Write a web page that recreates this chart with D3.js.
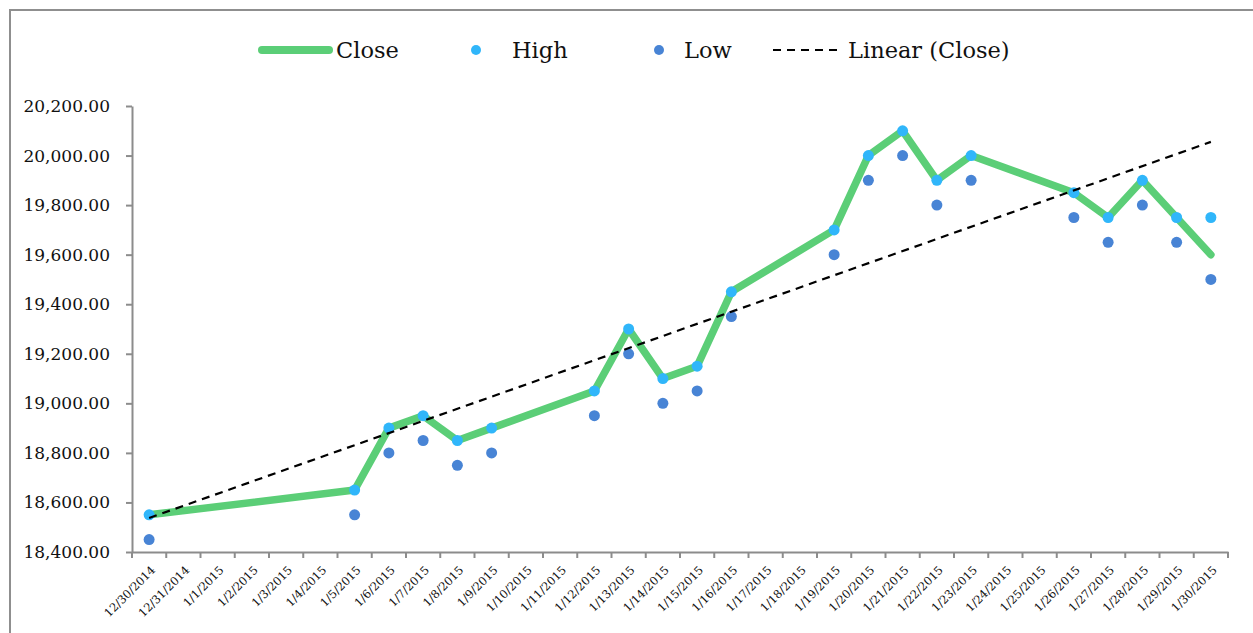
<!DOCTYPE html>
<html><head><meta charset="utf-8">
<script src="https://cdn.jsdelivr.net/npm/d3@7"></script>
<style>body{margin:0;background:#fff;} svg{display:block;}</style>
</head><body>
<svg id="chart" width="1253" height="633"></svg>
<script>
const dateLabels = ["12/30/2014","12/31/2014","1/1/2015","1/2/2015","1/3/2015","1/4/2015","1/5/2015","1/6/2015","1/7/2015","1/8/2015","1/9/2015","1/10/2015","1/11/2015","1/12/2015","1/13/2015","1/14/2015","1/15/2015","1/16/2015","1/17/2015","1/18/2015","1/19/2015","1/20/2015","1/21/2015","1/22/2015","1/23/2015","1/24/2015","1/25/2015","1/26/2015","1/27/2015","1/28/2015","1/29/2015","1/30/2015"];
const tradeDates = ["12/30/2014","1/5/2015","1/6/2015","1/7/2015","1/8/2015","1/9/2015","1/12/2015","1/13/2015","1/14/2015","1/15/2015","1/16/2015","1/19/2015","1/20/2015","1/21/2015","1/22/2015","1/23/2015","1/26/2015","1/27/2015","1/28/2015","1/29/2015","1/30/2015"];
const closeVals = [18550,18650,18900,18950,18850,18900,19050,19300,19100,19150,19450,19700,20000,20100,19900,20000,19850,19750,19900,19750,19600];
const highVals  = [18550,18650,18900,18950,18850,18900,19050,19300,19100,19150,19450,19700,20000,20100,19900,20000,19850,19750,19900,19750,19750];
const lowVals   = [18450,18550,18800,18850,18750,18800,18950,19200,19000,19050,19350,19600,19900,20000,19800,19900,19750,19650,19800,19650,19500];
const yTicks = [18400,18600,18800,19000,19200,19400,19600,19800,20000,20200];
const legendLabels = ["Close","High","Low","Linear (Close)"];

const C_CLOSE="#5BCE77", C_HIGH="#30B6FA", C_LOW="#4884D5", AX="#8C8C8C";
const FONT="'DejaVu Serif', serif";

const svg=d3.select("#chart");
svg.append("rect").attr("x",10).attr("y",10).attr("width",1260).attr("height",640)
  .attr("fill","none").attr("stroke","#8f8f8f").attr("stroke-width",2);

const x=d3.scaleBand().domain(dateLabels).range([132,1228]).padding(0);
const y=d3.scaleLinear().domain([18400,20200]).range([552,106]);
const cx=d=>x(d)+x.bandwidth()/2;

// y axis
const yAxis=svg.append("g").attr("transform","translate(132,0)")
  .call(d3.axisLeft(y).tickValues(yTicks).tickSize(6).tickSizeOuter(0).tickFormat(d3.format(",.2f")));
yAxis.select(".domain").attr("stroke",AX).attr("stroke-width",2);
yAxis.selectAll(".tick line").attr("stroke",AX).attr("stroke-width",2);
yAxis.selectAll(".tick text").attr("x",-22).attr("font-family",FONT).attr("font-size",17).attr("fill","#111");

// x axis
const xAxis=svg.append("g").attr("transform","translate(0,552)")
  .call(d3.axisBottom(x).tickSize(0).tickSizeOuter(0));
xAxis.select(".domain").attr("stroke",AX).attr("stroke-width",2);
xAxis.selectAll(".tick line").remove();
// boundary ticks
const bounds=dateLabels.map(d=>x(d)).concat([x(dateLabels[dateLabels.length-1])+x.bandwidth()]);
xAxis.selectAll("line.bt").data(bounds).join("line").attr("class","bt")
  .attr("x1",d=>d).attr("x2",d=>d).attr("y1",0).attr("y2",6).attr("stroke",AX).attr("stroke-width",2);
xAxis.selectAll(".tick text").attr("font-family",FONT).attr("font-size",11.5).attr("fill","#111")
  .attr("text-anchor","end").attr("y",0).attr("dy","0.35em")
  .attr("transform","translate(4,16) rotate(-45)");

// trendline (least squares on Close vs day index)
const dayIdx=tradeDates.map(d=>dateLabels.indexOf(d));
const n=dayIdx.length, mx=d3.mean(dayIdx), my=d3.mean(closeVals);
let sxy=0,sxx=0; dayIdx.forEach((t,i)=>{sxy+=(t-mx)*(closeVals[i]-my);sxx+=(t-mx)*(t-mx);});
const slope=sxy/sxx, icpt=my-slope*mx;
const t0=dayIdx[0], t1=dayIdx[n-1];
const dayX=d3.scaleLinear().domain([t0,t1]).range([cx(tradeDates[0]),cx(tradeDates[n-1])]);

// close line
svg.append("path").datum(tradeDates.map((d,i)=>[cx(d),y(closeVals[i])]))
  .attr("d",d3.line()).attr("fill","none").attr("stroke",C_CLOSE).attr("stroke-width",7.5)
  .attr("stroke-linejoin","round").attr("stroke-linecap","round");

// low
svg.append("g").selectAll("circle").data(tradeDates).join("circle")
  .attr("cx",d=>cx(d)).attr("cy",(d,i)=>y(lowVals[i])).attr("r",5.5).attr("fill",C_LOW);
// high
svg.append("g").selectAll("circle").data(tradeDates).join("circle")
  .attr("cx",d=>cx(d)).attr("cy",(d,i)=>y(highVals[i])).attr("r",5.5).attr("fill",C_HIGH);

// trend
svg.append("line").attr("x1",dayX(t0)).attr("y1",y(icpt+slope*t0))
  .attr("x2",dayX(t1)).attr("y2",y(icpt+slope*t1))
  .attr("stroke","#000").attr("stroke-width",2.2).attr("stroke-dasharray","8,6");

// legend
const lg=svg.append("g");
lg.append("line").attr("x1",262).attr("x2",329).attr("y1",50).attr("y2",50)
  .attr("stroke",C_CLOSE).attr("stroke-width",8).attr("stroke-linecap","round");
lg.append("circle").attr("cx",476).attr("cy",50).attr("r",5).attr("fill",C_HIGH);
lg.append("circle").attr("cx",659).attr("cy",50).attr("r",5).attr("fill",C_LOW);
lg.append("line").attr("x1",773).attr("x2",840).attr("y1",50).attr("y2",50)
  .attr("stroke","#000").attr("stroke-width",2.2).attr("stroke-dasharray","8,6");
const lx=[336,512,684,848];
lg.selectAll("text").data(legendLabels).join("text")
  .attr("x",(d,i)=>lx[i]).attr("y",58).text(d=>d)
  .attr("font-family",FONT).attr("font-size",22.5).attr("fill","#111");
</script>
</body></html>
